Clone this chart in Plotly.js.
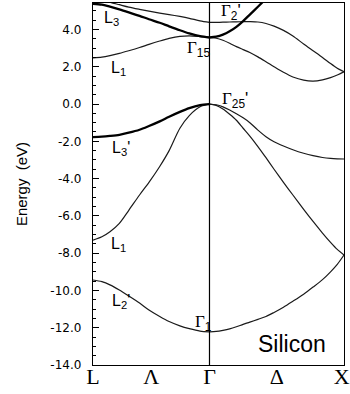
<!DOCTYPE html>
<html>
<head>
<meta charset="utf-8">
<script src="https://cdn.plot.ly/plotly-3.0.1.min.js"></script>
<style>
  html, body { margin: 0; padding: 0; background: #fff; }
  #chart { width: 350px; height: 394px; }
</style>
</head>
<body>
<div id="chart"></div>
<script>
// symmetry points (k in units of 2π/a)
const kL = -0.866, kGamma = 0, kX = 1;
const xTickVals = [kL, kL / 2, kGamma, 0.5, kX];
const xTickText = ['L', 'Λ', 'Γ', 'Δ', 'X\u2009'];
const yTickVals = [-14, -12, -10, -8, -6, -4, -2, 0, 2, 4];
const yTickText = ['-14.0', '-12.0', '-10.0', '-8.0', '-6.0', '-4.0', '-2.0', '0.0', '2.0', '4.0'];

// Λ direction (L -> Γ)
const kLambda = [-0.866, -0.8, -0.74, -0.67, -0.6, -0.52, -0.45, -0.37, -0.3, -0.22, -0.15, -0.07, 0];
const lamLowest = [-9.44, -9.53, -9.7, -9.98, -10.3, -10.68, -11.05, -11.4, -11.67, -11.9, -12.05, -12.18, -12.22];
const lamVal1   = [-7.3, -7.12, -6.85, -6.4, -5.7, -4.88, -4.2, -3.35, -2.5, -1.3, -0.62, -0.15, 0];
const lamVal3   = [-1.77, -1.75, -1.71, -1.65, -1.54, -1.38, -1.18, -0.93, -0.68, -0.42, -0.22, -0.06, 0];
const lamCond1  = [2.48, 2.52, 2.6, 2.72, 2.86, 3.03, 3.2, 3.38, 3.52, 3.63, 3.66, 3.62, 3.57];
const lamCond3  = [5.38, 5.33, 5.22, 5.08, 4.92, 4.73, 4.55, 4.36, 4.17, 3.96, 3.79, 3.64, 3.57];
const lamCondUp = [5.9, 5.62, 5.46, 5.33, 5.2, 5.08, 4.98, 4.88, 4.8, 4.7, 4.6, 4.46, 4.38];

// Δ direction (Γ -> X)
const kDelta = [0, 0.05, 0.1, 0.15, 0.2, 0.25, 0.3, 0.36, 0.42, 0.48, 0.55, 0.62, 0.7, 0.77, 0.84, 0.9, 0.95, 1.0];
const delLowest = [-12.22, -12.2, -12.14, -12.06, -11.95, -11.82, -11.7, -11.55, -11.4, -11.18, -10.9, -10.58, -10.2, -9.82, -9.42, -9.0, -8.6, -8.1];
const delVal2p  = [0, -0.07, -0.27, -0.55, -0.87, -1.3, -1.72, -2.28, -2.88, -3.5, -4.2, -4.88, -5.65, -6.3, -6.92, -7.42, -7.8, -8.1];
const delVal5   = [0, -0.04, -0.15, -0.32, -0.52, -0.74, -1.0, -1.4, -1.75, -2.02, -2.25, -2.45, -2.64, -2.77, -2.87, -2.92, -2.94, -2.95];
const delCond1  = [3.57, 3.53, 3.42, 3.26, 3.08, 2.92, 2.76, 2.53, 2.27, 2.0, 1.7, 1.45, 1.28, 1.23, 1.3, 1.42, 1.56, 1.73];
const delCond2p = [4.38, 4.38, 4.39, 4.4, 4.41, 4.42, 4.42, 4.4, 4.32, 4.18, 3.95, 3.65, 3.22, 2.86, 2.5, 2.17, 1.92, 1.73];
const kDeltaShort = [0, 0.05, 0.1, 0.15, 0.2, 0.25, 0.3, 0.36, 0.42];
const delCond5  = [3.57, 3.61, 3.72, 3.9, 4.14, 4.45, 4.8, 5.22, 5.65];

const thin = {color: '#1a1a1a', width: 1.2, shape: 'spline', smoothing: 0.8};
const thick = {color: '#000', width: 2.3, shape: 'spline', smoothing: 0.8};

function band(x, y, line) {
  return {x: x, y: y, type: 'scatter', mode: 'lines', line: line, hoverinfo: 'skip'};
}

const data = [
  band(kLambda, lamLowest, thin),
  band(kLambda, lamVal1, thin),
  band(kLambda, lamVal3, thick),
  band(kLambda, lamCond1, thin),
  band(kLambda, lamCond3, thick),
  band(kLambda, lamCondUp, thin),
  band(kDelta, delLowest, thin),
  band(kDelta, delVal2p, thin),
  band(kDelta, delVal5, thin),
  band(kDelta, delCond1, thin),
  band(kDelta, delCond2p, thin),
  band(kDeltaShort, delCond5, thick)
];

const sans = 'Liberation Sans, Arial, Helvetica, sans-serif';
const serif = 'Liberation Serif, Times New Roman, serif';
const G = '<span style="font-family:Liberation Serif">Γ</span>';

function lab(text, x, y, size) {
  return {text: text, x: x, y: y, xref: 'x', yref: 'y', xanchor: 'left', yanchor: 'middle',
          showarrow: false, font: {family: sans, size: size || 16, color: '#000'}};
}

const annotations = [
  lab('L<sub>3</sub>', -0.80, 4.61),
  lab('L<sub>1</sub>', -0.747, 1.88),
  lab(G + '<sub>15</sub>', -0.182, 2.95, 17),
  lab(G + '<sub>2</sub>\'', 0.071, 4.94, 17),
  lab(G + '<sub>25</sub>\'', 0.078, 0.21, 17),
  lab('L<sub>3</sub>\'', -0.74, -2.36),
  lab('L<sub>1</sub>', -0.747, -7.56),
  lab('L<sub>2</sub>\'', -0.74, -10.62),
  lab(G + '<sub>1</sub>', -0.123, -11.75, 17),
  {text: 'Silicon', x: 0.617, y: -12.88, xref: 'x', yref: 'y', xanchor: 'center', yanchor: 'middle',
   showarrow: false, font: {family: sans, size: 23, color: '#000'}}
];

const layout = {
  width: 350, height: 394,
  margin: {l: 93, r: 6, t: 3, b: 29},
  paper_bgcolor: '#fff', plot_bgcolor: '#fff',
  showlegend: false,
  xaxis: {
    range: [kL, kX], tickmode: 'array', tickvals: xTickVals, ticktext: xTickText,
    ticks: '', showline: true, mirror: true, linecolor: '#000', linewidth: 1.2,
    showgrid: false, zeroline: false, fixedrange: true, ticklabeloverflow: 'allow',
    tickfont: {family: serif, size: 22, color: '#000'}, ticklabelstandoff: -9
  },
  yaxis: {
    range: [-14, 5.42], tickmode: 'array', tickvals: yTickVals, ticktext: yTickText,
    ticks: 'inside', ticklen: 6, tickwidth: 1, tickcolor: '#000',
    minor: {tickmode: 'linear', tick0: 0, dtick: 0.5, ticks: 'inside', ticklen: 3, tickcolor: '#000', tickwidth: 1, showgrid: false},
    showline: true, mirror: true, linecolor: '#000', linewidth: 1.2,
    showgrid: false, zeroline: false, fixedrange: true,
    tickfont: {family: 'DejaVu Sans, sans-serif', size: 12, color: '#000'}, ticklabelstandoff: 8,
    title: {text: 'Energy\u00a0 (eV)', font: {family: sans, size: 15, color: '#000'}, standoff: 19}
  },
  shapes: [{type: 'line', xref: 'x', yref: 'paper', x0: kGamma, x1: kGamma, y0: 0, y1: 1,
            line: {color: '#000', width: 1.2}}],
  annotations: annotations
};

Plotly.newPlot('chart', data, layout, {displayModeBar: false, staticPlot: true});
</script>
</body>
</html>
